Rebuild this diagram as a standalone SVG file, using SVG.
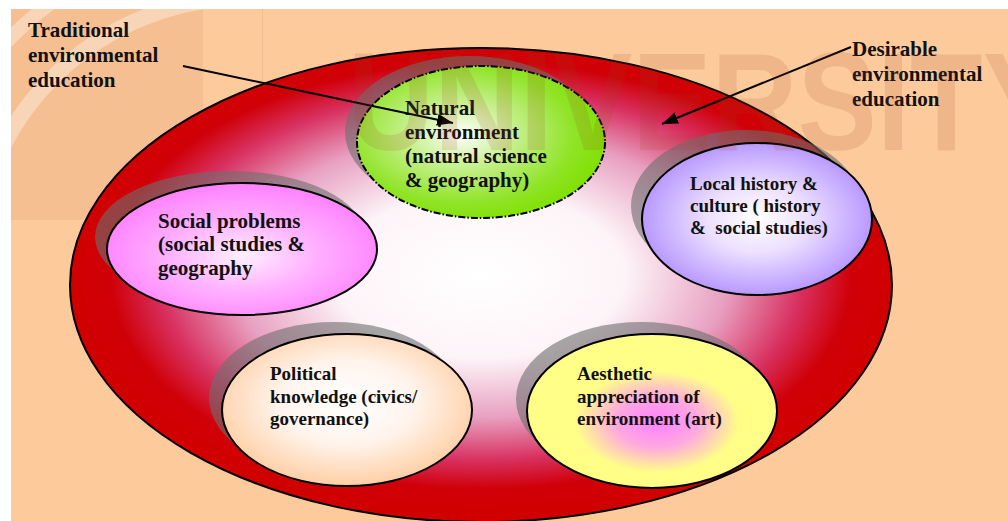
<svg xmlns="http://www.w3.org/2000/svg" width="1008" height="521" viewBox="0 0 1008 521">
<style>
.lbl{font-family:"Liberation Serif","Times New Roman",serif;font-weight:bold;fill:#111;}
.big{font-size:21px;}
.sm{font-size:19px;}
.shadow{fill:#6e6e6e;fill-opacity:0.6;}
.node{stroke:#000;stroke-width:2;}
.conn{stroke:#000;stroke-width:2;fill:none;}
</style>
<defs>
<radialGradient id="gBig" cx="0.5" cy="0.48" r="0.5">
<stop offset="0" stop-color="#ffffff"/>
<stop offset="0.35" stop-color="#fdf4f8"/>
<stop offset="0.6" stop-color="#e8a0c0"/>
<stop offset="0.78" stop-color="#d83060"/>
<stop offset="0.9" stop-color="#d00008"/>
<stop offset="1" stop-color="#d00000"/>
</radialGradient>
<radialGradient id="gGreen" cx="0.42" cy="0.45" r="0.6">
<stop offset="0" stop-color="#ffffff"/>
<stop offset="0.35" stop-color="#c8f090"/>
<stop offset="0.75" stop-color="#90e428"/>
<stop offset="1" stop-color="#80e000"/>
</radialGradient>
<radialGradient id="gPink" cx="0.5" cy="0.55" r="0.55">
<stop offset="0" stop-color="#fff0ff"/>
<stop offset="0.5" stop-color="#ffb0ff"/>
<stop offset="1" stop-color="#ff80ff"/>
</radialGradient>
<radialGradient id="gPurple" cx="0.5" cy="0.5" r="0.55">
<stop offset="0" stop-color="#ffffff"/>
<stop offset="0.4" stop-color="#ece0ff"/>
<stop offset="1" stop-color="#b08cff"/>
</radialGradient>
<radialGradient id="gPol" cx="0.5" cy="0.45" r="0.6">
<stop offset="0" stop-color="#ffffff"/>
<stop offset="0.45" stop-color="#fff4ec"/>
<stop offset="1" stop-color="#ffc898"/>
</radialGradient>
<radialGradient id="gYel" cx="0.52" cy="0.57" r="0.55">
<stop offset="0" stop-color="#ff80ff"/>
<stop offset="0.3" stop-color="#ffa8e0"/>
<stop offset="0.6" stop-color="#ffff88"/>
<stop offset="1" stop-color="#ffff88"/>
</radialGradient>
<marker id="arr" markerUnits="userSpaceOnUse" markerWidth="18" markerHeight="14" refX="16" refY="6" orient="auto">
<path d="M0,0 L16,6 L0,12 z" fill="#000"/>
</marker>
<clipPath id="wmClip"><rect x="11" y="9" width="252" height="211"/></clipPath>
</defs>

<rect x="0" y="0" width="1008" height="521" fill="#ffffff"/>
<rect x="11" y="9" width="997" height="512" fill="#fdca9c"/>

<g id="watermark-logo" clip-path="url(#wmClip)">
<rect x="11" y="9" width="192" height="211" fill="#b06030" fill-opacity="0.1"/>
<circle cx="245" cy="270" r="330" fill="none" stroke="#ffffff" stroke-opacity="0.35" stroke-width="14"/>
<circle cx="245" cy="270" r="272" fill="none" stroke="#ffffff" stroke-opacity="0.35" stroke-width="16"/>
<line x1="263" y1="9" x2="263" y2="220" stroke="#a06040" stroke-opacity="0.15" stroke-width="1.5"/>
</g>

<g id="outer">
<ellipse cx="481" cy="285" rx="411" ry="237" fill="url(#gBig)" class="node"/>
</g>

<g id="natural">
<ellipse class="shadow" cx="469" cy="132" rx="124" ry="76"/>
<ellipse cx="481" cy="142" rx="124" ry="76" fill="url(#gGreen)" stroke="#000" stroke-width="2" stroke-dasharray="7 2 1.5 2"/>
<text class="lbl big"><tspan x="405" y="115">Natural</tspan><tspan x="405" y="139">environment</tspan><tspan x="405" y="163">(natural science</tspan><tspan x="405" y="187">&amp; geography)</tspan></text>
</g>

<g id="social">
<ellipse class="shadow" cx="230" cy="237" rx="135" ry="66"/>
<ellipse cx="242" cy="249" rx="135" ry="66" fill="url(#gPink)" class="node"/>
<text class="lbl big"><tspan x="158" y="228">Social problems</tspan><tspan x="158" y="251">(social studies &amp;</tspan><tspan x="158" y="275">geography</tspan></text>
</g>

<g id="local">
<ellipse class="shadow" cx="746" cy="206" rx="115" ry="76"/>
<ellipse cx="757" cy="219" rx="115" ry="76" fill="url(#gPurple)" class="node"/>
<text class="lbl sm"><tspan x="690" y="190">Local history &amp;</tspan><tspan x="690" y="212">culture ( history</tspan><tspan x="690" y="234">&amp;&#160; social studies)</tspan></text>
</g>

<g id="political">
<ellipse class="shadow" cx="334" cy="398" rx="125" ry="76"/>
<ellipse cx="347" cy="410" rx="125" ry="76" fill="url(#gPol)" class="node"/>
<text class="lbl sm"><tspan x="270" y="380">Political</tspan><tspan x="270" y="403">knowledge (civics/</tspan><tspan x="270" y="425">governance)</tspan></text>
</g>

<g id="aesthetic">
<ellipse class="shadow" cx="641" cy="399" rx="125" ry="77"/>
<ellipse cx="652" cy="411" rx="125" ry="77" fill="url(#gYel)" class="node"/>
<text class="lbl sm"><tspan x="577" y="380">Aesthetic</tspan><tspan x="577" y="403">appreciation of</tspan><tspan x="577" y="425">environment (art)</tspan></text>
</g>

<g id="label-traditional">
<text class="lbl big"><tspan x="28" y="37">Traditional</tspan><tspan x="28" y="62">environmental</tspan><tspan x="28" y="87">education</tspan></text>
</g>

<g id="label-desirable">
<text class="lbl big"><tspan x="852" y="56">Desirable</tspan><tspan x="852" y="81">environmental</tspan><tspan x="852" y="106">education</tspan></text>
</g>

<g id="connectors">
<line class="conn" x1="183" y1="66" x2="453" y2="123" marker-end="url(#arr)"/>
<line class="conn" x1="851" y1="47" x2="662" y2="124" marker-end="url(#arr)"/>
</g>

<g id="watermark-text">
<text x="348" y="150" font-family="Liberation Sans, Arial, sans-serif" font-weight="bold" font-size="140" textLength="714" lengthAdjust="spacingAndGlyphs" fill="#a04020" fill-opacity="0.15">UNIVERSITY</text>
</g>
</svg>
